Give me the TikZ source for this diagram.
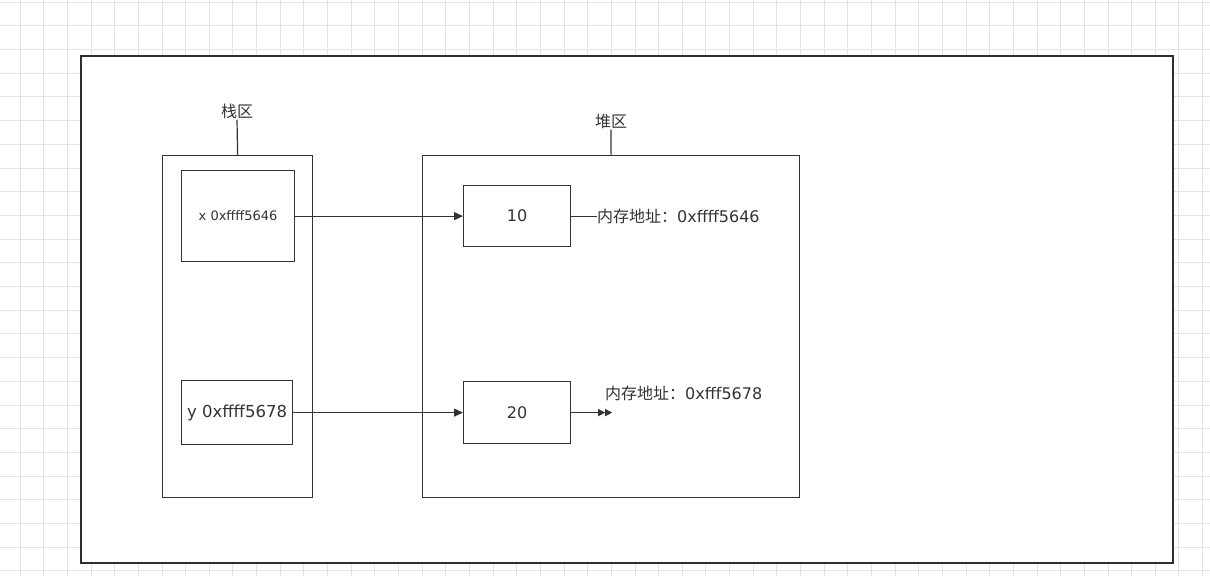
\documentclass[tikz,border=0pt]{standalone}
\usepackage{fontspec}
\setmainfont{DejaVu Sans}
\newfontfamily\cjk{Noto Sans CJK SC}
\usetikzlibrary{arrows.meta}
\definecolor{ink}{HTML}{333333}
\definecolor{gridc}{HTML}{E4E4E4}
\tikzset{
  box/.style={draw=ink, line width=1.2pt, fill=white, inner sep=0pt},
  lbl/.style={text=ink, inner sep=1pt, font=\fontsize{16}{18}\selectfont},
  conn/.style={draw=ink, line width=1.2pt},
  tip/.style={-{Triangle[length=9pt,width=8pt]}},
  dtip/.style={-{Triangle[length=7pt,width=7pt]Triangle[length=7pt,width=7pt]}}
}
\begin{document}
\begin{tikzpicture}[x=1pt,y=-1pt]
\useasboundingbox (0,0) rectangle (1210,576);
\fill[white] (0,0) rectangle (1210,576);
% grid
\foreach \i in {0,...,50} { \draw[gridc, line width=0.8pt] (20+23.65*\i,0) -- (20+23.65*\i,576); }
\foreach \j in {0,...,24} { \draw[gridc, line width=0.8pt] (0,2+23.7*\j) -- (1210,2+23.7*\j); }
% frame
\node[box, line width=1.5pt, draw=ink!90!black, minimum width=1092pt, minimum height=507pt, anchor=north west] (frame) at (80,55) {};
% stack
\node[box, minimum width=150pt, minimum height=342pt, anchor=north west] (stack) at (162,155) {};
\node[lbl] (stacklbl) at (237,111) {\cjk 栈区};
\draw[conn] (stacklbl.south) -- (stack.north);
\node[box, minimum width=113pt, minimum height=91pt, anchor=north west, text=ink, font=\fontsize{13}{15}\selectfont] (xb) at (181,170) {x 0xffff5646};
\node[box, minimum width=111pt, minimum height=64pt, anchor=north west, text=ink, font=\fontsize{16.5}{18}\selectfont] (yb) at (181,380) {y 0xffff5678};
% heap
\node[box, minimum width=377pt, minimum height=342pt, anchor=north west] (heap) at (422,155) {};
\node[lbl] (heaplbl) at (611,121) {\cjk 堆区};
\draw[conn] (heaplbl.south) -- (heap.north);
\node[box, minimum width=107pt, minimum height=61pt, anchor=north west, text=ink, font=\fontsize{16}{18}\selectfont] (b10) at (463,185) {10};
\node[box, minimum width=107pt, minimum height=62pt, anchor=north west, text=ink, font=\fontsize{16}{18}\selectfont] (b20) at (463,381) {20};
% connectors
\draw[conn, tip] (xb.east) -- (b10.west |- xb.east);
\draw[conn, tip] (yb.east) -- (b20.west |- yb.east);
\node[lbl, anchor=west, inner sep=0pt] (addr1) at (597,216) {{\cjk 内存地址：}0xffff5646};
\draw[conn] (b10.east) -- (addr1.west |- b10.east);
\node[lbl, anchor=west, inner sep=0pt] (addr2) at (605,393) {{\cjk 内存地址：}0xfff5678};
\path (b20.east) ++(41,0) coordinate (end2);
\draw[conn, dtip] (b20.east) -- (end2);
\end{tikzpicture}
\end{document}
